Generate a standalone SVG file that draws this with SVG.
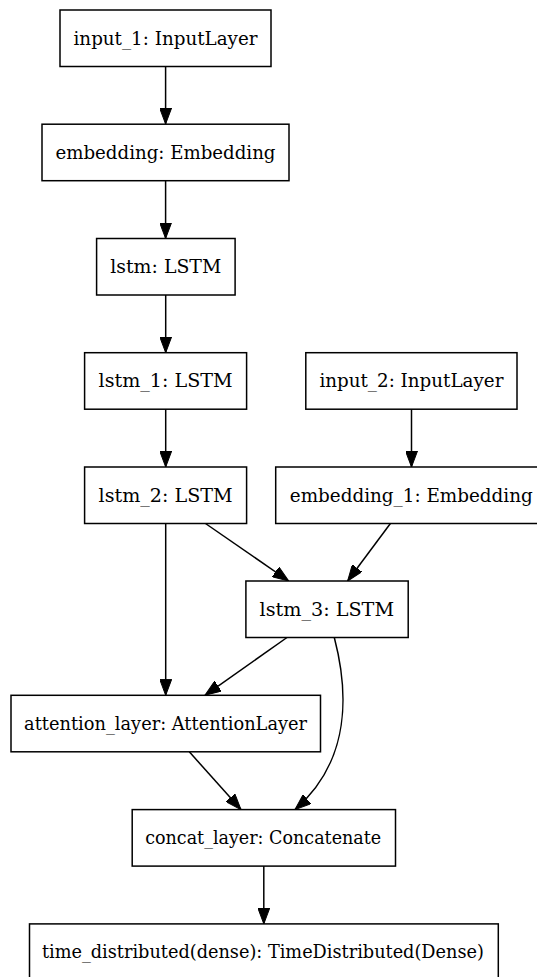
<svg xmlns="http://www.w3.org/2000/svg" width="537" height="977" viewBox="0 0 537 977">
<style>
  .node rect { fill: #ffffff; stroke: #000000; stroke-width: 1.5; }
  .node text { font-family: 'DejaVu Serif', serif; font-size: 18px; fill: #000000; text-anchor: middle; }
  .edges path { fill: none; stroke: #000000; stroke-width: 1.5; marker-end: url(#arrow); }
</style>
<defs>
  <marker id="arrow" viewBox="0 0 16 12" refX="16" refY="6" markerWidth="16" markerHeight="12" markerUnits="userSpaceOnUse" orient="auto">
    <path d="M0,0 L16,6 L0,12 Z" fill="#000000" stroke="#000000" stroke-width="1"/>
  </marker>
</defs>
<rect width="537" height="977" fill="#ffffff"/>
<g class="edges" id="edges">
  <path d="M165.6,66.5 L165.6,124"/>
  <path d="M165.6,181 L165.6,238.5"/>
  <path d="M165.7,295 L165.7,352.7"/>
  <path d="M165.7,409.2 L165.7,467"/>
  <path d="M411.5,409.2 L411.5,467"/>
  <path d="M205.5,523.5 L288.7,581"/>
  <path d="M390.4,523.5 L347.6,581"/>
  <path d="M165.7,523.5 L165.7,695.3"/>
  <path d="M287,637.5 L205,695.3"/>
  <path d="M334.3,637.5 C348,690 352,760 295,809.6"/>
  <path d="M189.3,751.8 L241,809.6"/>
  <path d="M263.8,866.1 L263.8,923.9"/>
</g>
<g class="node" id="input_1">
  <rect x="60" y="10" width="211" height="56.5"/>
  <text x="165.5" y="44.5" textLength="184" lengthAdjust="spacingAndGlyphs">input_1: InputLayer</text>
</g>
<g class="node" id="embedding">
  <rect x="42" y="124.2" width="247" height="56.5"/>
  <text x="165.5" y="158.7" textLength="220" lengthAdjust="spacingAndGlyphs">embedding: Embedding</text>
</g>
<g class="node" id="lstm">
  <rect x="96.6" y="238.5" width="138.5" height="56.5"/>
  <text x="165.8" y="273" textLength="111" lengthAdjust="spacingAndGlyphs">lstm: LSTM</text>
</g>
<g class="node" id="lstm_1">
  <rect x="84.6" y="352.7" width="162" height="56.5"/>
  <text x="165.6" y="387.2" textLength="134" lengthAdjust="spacingAndGlyphs">lstm_1: LSTM</text>
</g>
<g class="node" id="input_2">
  <rect x="305.8" y="352.7" width="211.2" height="56.5"/>
  <text x="411.4" y="387.2" textLength="184" lengthAdjust="spacingAndGlyphs">input_2: InputLayer</text>
</g>
<g class="node" id="lstm_2">
  <rect x="84.6" y="467" width="162" height="56.5"/>
  <text x="165.6" y="501.5" textLength="134" lengthAdjust="spacingAndGlyphs">lstm_2: LSTM</text>
</g>
<g class="node" id="embedding_1">
  <rect x="275.7" y="467" width="272" height="56.5"/>
  <text x="411.3" y="501.5" textLength="243" lengthAdjust="spacingAndGlyphs">embedding_1: Embedding</text>
</g>
<g class="node" id="lstm_3">
  <rect x="245.9" y="581" width="162.3" height="56.5"/>
  <text x="326.8" y="615.5" textLength="134.5" lengthAdjust="spacingAndGlyphs">lstm_3: LSTM</text>
</g>
<g class="node" id="attention_layer">
  <rect x="11" y="695.3" width="309.5" height="56.5"/>
  <text x="165.6" y="729.8" textLength="283" lengthAdjust="spacingAndGlyphs">attention_layer: AttentionLayer</text>
</g>
<g class="node" id="concat_layer">
  <rect x="132.2" y="809.6" width="263.3" height="56.5"/>
  <text x="263.2" y="844.1" textLength="236" lengthAdjust="spacingAndGlyphs">concat_layer: Concatenate</text>
</g>
<g class="node" id="time_distributed">
  <rect x="29.5" y="923.9" width="468.8" height="56.5"/>
  <text x="262.9" y="958.4" textLength="442" lengthAdjust="spacingAndGlyphs">time_distributed(dense): TimeDistributed(Dense)</text>
</g>
</svg>
